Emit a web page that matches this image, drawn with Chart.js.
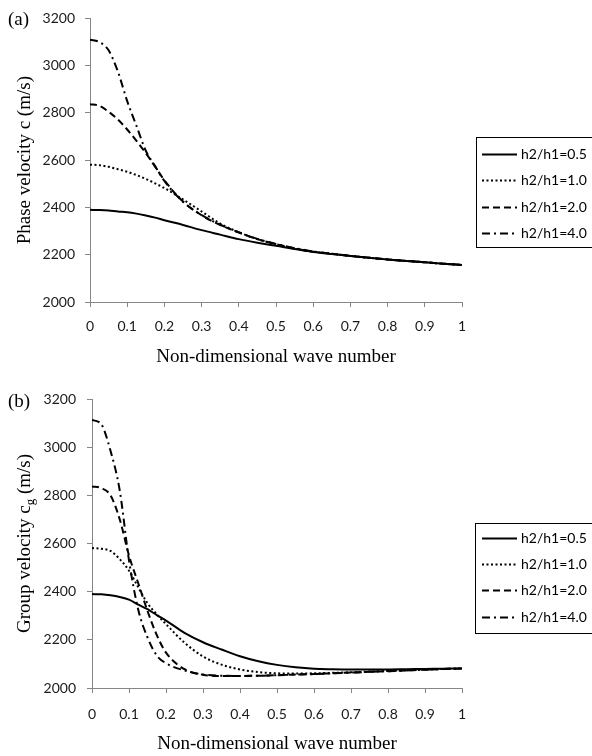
<!DOCTYPE html>
<html>
<head>
<meta charset="utf-8">
<script src="https://cdn.jsdelivr.net/npm/chart.js@4.4.1/dist/chart.umd.min.js"></script>
<style>
  html, body { margin: 0; padding: 0; background: #fff; }
  .panel { width: 592px; height: 378px; }
  canvas { display: block; }
</style>
</head>
<body>
<div class="panel"><canvas id="phaseChart" width="592" height="378"></canvas></div>
<div class="panel"><canvas id="groupChart" width="592" height="378"></canvas></div>
<script>
// Dispersion curves: phase and group velocity vs non-dimensional wave number

var WAVE_NUMBER = [0, 0.025, 0.05, 0.075, 0.1, 0.125, 0.15, 0.175, 0.2, 0.25, 0.3, 0.35, 0.4,
  0.45, 0.5, 0.55, 0.6, 0.65, 0.7, 0.75, 0.8, 0.85, 0.9, 0.95, 1];

var SERIES_LABELS = ['h2/h1=0.5', 'h2/h1=1.0', 'h2/h1=2.0', 'h2/h1=4.0'];

// phase velocity c (m/s)
var PHASE_05 = [2390, 2389, 2387, 2383, 2380, 2374, 2366, 2357, 2346, 2326, 2304, 2285, 2266,
  2251, 2238, 2224, 2212, 2203, 2195, 2187, 2180, 2174, 2168, 2162, 2157];
var PHASE_10 = [2581, 2579, 2572, 2562, 2551, 2537, 2521, 2502, 2482, 2434, 2383, 2332, 2295,
  2266, 2244, 2226, 2213, 2204, 2195, 2187, 2180, 2174, 2168, 2162, 2157];
var PHASE_20 = [2837, 2830, 2805, 2772, 2730, 2682, 2630, 2573, 2515, 2425, 2367, 2326, 2294,
  2266, 2245, 2227, 2213, 2204, 2195, 2187, 2180, 2174, 2168, 2162, 2157];
var PHASE_40 = [3110, 3100, 3065, 2975, 2850, 2745, 2640, 2575, 2512, 2424, 2368, 2327, 2295,
  2267, 2246, 2228, 2214, 2204, 2195, 2187, 2180, 2174, 2168, 2162, 2157];

// group velocity cg (m/s)
var GROUP_05 = [2390, 2389, 2385, 2378, 2367, 2346, 2327, 2303, 2280, 2229, 2190, 2160, 2132,
  2111, 2096, 2086, 2080, 2078, 2077, 2077, 2077, 2078, 2079, 2080, 2081];
var GROUP_10 = [2581, 2578, 2569, 2535, 2487, 2418, 2352, 2306, 2265, 2188, 2131, 2097, 2077,
  2066, 2061, 2060, 2061, 2063, 2065, 2068, 2071, 2074, 2077, 2079, 2081];
var GROUP_20 = [2837, 2830, 2800, 2700, 2550, 2435, 2320, 2220, 2147, 2078, 2055, 2050, 2050,
  2051, 2053, 2056, 2058, 2061, 2064, 2067, 2070, 2073, 2076, 2079, 2081];
var GROUP_40 = [3113, 3095, 2985, 2820, 2530, 2325, 2210, 2135, 2103, 2073, 2056, 2051, 2050,
  2051, 2053, 2056, 2058, 2061, 2064, 2067, 2070, 2073, 2076, 2079, 2081];

var X_TICKS = [0, 0.1, 0.2, 0.3, 0.4, 0.5, 0.6, 0.7, 0.8, 0.9, 1];
var Y_TICKS = [2000, 2200, 2400, 2600, 2800, 3000, 3200];

var DASHES = [[], [2, 2.5], [7, 4], [8, 4, 2, 4]];
var AXIS_GREY = '#868686';
var SERIF = '"Liberation Serif", "Times New Roman", serif';

Chart.defaults.font.family = 'Lato, "Liberation Sans", sans-serif';
Chart.defaults.color = '#1a1a1a';

function toPoints(values) {
  return values.map(function (v, i) { return { x: WAVE_NUMBER[i], y: v }; });
}

function buildDatasets(series) {
  return series.map(function (values, i) {
    return {
      label: SERIES_LABELS[i],
      data: toPoints(values),
      borderColor: '#000',
      borderWidth: 2,
      borderDash: DASHES[i],
      pointRadius: 0,
      cubicInterpolationMode: 'monotone',
      fill: false
    };
  });
}

// boxed legend on the right, the (a)/(b) tag and the y title (which may carry a subscript)
var boxLegend = {
  id: 'boxLegend',
  afterDraw: function (chart, args, opts) {
    var ctx = chart.ctx;
    var area = chart.chartArea;
    ctx.save();
    ctx.strokeStyle = '#000';
    ctx.lineWidth = 1;
    ctx.setLineDash([]);
    ctx.strokeRect(opts.left + 0.5, opts.top + 0.5, 200, opts.height);

    ctx.font = '14px Lato';
    ctx.textBaseline = 'middle';
    ctx.textAlign = 'left';
    ctx.fillStyle = '#000';
    chart.data.datasets.forEach(function (ds, i) {
      var y = Math.round(opts.firstRow + i * opts.rowGap) + 0.5;
      ctx.lineWidth = ds.borderWidth;
      ctx.setLineDash(ds.borderDash);
      ctx.beginPath();
      ctx.moveTo(482, y);
      ctx.lineTo(517, y);
      ctx.stroke();
      ctx.fillText(ds.label, 521, y);
    });

    ctx.setLineDash([]);
    ctx.font = '19px ' + SERIF;
    ctx.fillText(opts.tag, 8, opts.tagY);

    // rotated y title: [before, subscript, after]
    var parts = opts.yTitle;
    var mainFont = '19px ' + SERIF;
    var subFont = '13px ' + SERIF;
    ctx.font = mainFont;
    var w0 = ctx.measureText(parts[0]).width;
    var w2 = ctx.measureText(parts[2]).width;
    ctx.font = subFont;
    var w1 = parts[1] ? ctx.measureText(parts[1]).width : 0;
    var total = w0 + w1 + w2;
    ctx.translate(opts.titleX, (area.top + area.bottom) / 2);
    ctx.rotate(-Math.PI / 2);
    ctx.textBaseline = 'alphabetic';
    var x = -total / 2;
    ctx.font = mainFont;
    ctx.fillText(parts[0], x, 6);
    x += w0;
    if (parts[1]) {
      ctx.font = subFont;
      ctx.fillText(parts[1], x, 10);
      x += w1;
    }
    ctx.font = mainFont;
    ctx.fillText(parts[2], x, 6);
    ctx.restore();
  }
};

function makeChart(canvasId, series, cfg) {
  return new Chart(document.getElementById(canvasId), {
    type: 'line',
    data: { datasets: buildDatasets(series) },
    plugins: [boxLegend],
    options: {
      responsive: false,
      animation: false,
      layout: { padding: { left: 0, right: 130, top: cfg.top, bottom: 0 } },
      plugins: {
        legend: { display: false },
        tooltip: { enabled: false },
        boxLegend: cfg.legend
      },
      scales: {
        x: {
          type: 'linear',
          min: 0,
          max: 1,
          afterBuildTicks: function (axis) {
            axis.ticks = X_TICKS.map(function (v) { return { value: v }; });
          },
          afterFit: function (axis) { axis.height = cfg.xHeight; },
          border: { display: true, color: AXIS_GREY, width: 1 },
          grid: { drawOnChartArea: false, drawTicks: true, tickLength: 5, color: AXIS_GREY },
          ticks: {
            padding: cfg.xPad,
            maxRotation: 0,
            autoSkip: false,
            font: { size: 14 },
            callback: function (v) { return String(Math.round(v * 10) / 10); }
          },
          title: {
            display: true,
            text: 'Non-dimensional wave number',
            font: { family: SERIF, size: 19 },
            color: '#000',
            padding: { top: 0, bottom: cfg.titlePad }
          }
        },
        y: {
          type: 'linear',
          min: 2000,
          max: 3200,
          afterBuildTicks: function (axis) {
            axis.ticks = Y_TICKS.map(function (v) { return { value: v }; });
          },
          afterFit: function (axis) { axis.width = cfg.yWidth; },
          border: { display: true, color: AXIS_GREY, width: 1 },
          grid: { drawOnChartArea: false, drawTicks: true, tickLength: 5, color: AXIS_GREY },
          ticks: {
            padding: cfg.yPad,
            font: { size: 14 },
            callback: function (v) { return String(v); }
          }
        }
      }
    }
  });
}

makeChart('phaseChart', [PHASE_05, PHASE_10, PHASE_20, PHASE_40], {
  top: 17, xHeight: 76, xPad: 11, titlePad: 10, yWidth: 90, yPad: 10,
  legend: {
    left: 476, top: 137, height: 110, firstRow: 154, rowGap: 26.3, tag: '(a)', tagY: 20,
    titleX: 24, yTitle: ['Phase velocity c (m/s)', '', '']
  }
});

makeChart('groupChart', [GROUP_05, GROUP_10, GROUP_20, GROUP_40], {
  top: 21, xHeight: 68, xPad: 13, titlePad: 1, yWidth: 92, yPad: 11,
  legend: {
    left: 475, top: 145, height: 110, firstRow: 160, rowGap: 26.2, tag: '(b)', tagY: 24,
    titleX: 24, yTitle: ['Group velocity c', 'g', ' (m/s)']
  }
});
</script>
</body>
</html>
